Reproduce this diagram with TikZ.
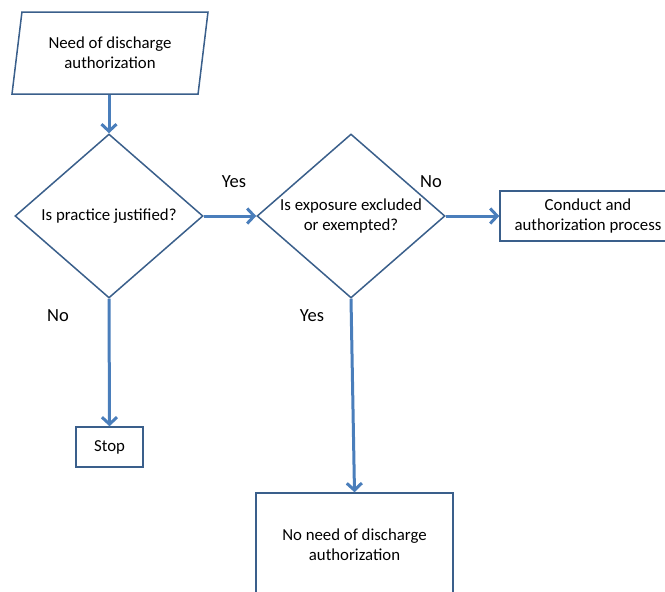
\documentclass[tikz,border=0pt]{standalone}
\usepackage{fontspec}
\setmainfont{Carlito}
\usepackage{tikz}
\usetikzlibrary{arrows.meta}
\usetikzlibrary{shapes.geometric}
\definecolor{edgeblue}{HTML}{3A5F8B}
\definecolor{flowblue}{HTML}{4A7EBB}
\tikzset{
input box/.style = { trapezium, trapezium left angle = 73.7, trapezium right angle = 106.3, trapezium stretches body, draw = edgeblue, line width = 1.5pt, fill = white, minimum width = 196pt, minimum height = 82pt, align = center, inner sep = 1pt },
decision/.style = { diamond, shape aspect = 1.146, draw = edgeblue, line width = 1.5pt, fill = white, minimum width = 188pt, minimum height = 164pt, align = center, inner sep = 0pt },
process/.style = { rectangle, draw = edgeblue, line width = 1.5pt, fill = white, align = center },
flow/.style = { draw = flowblue, line width = 3pt, -{Straight Barb[length = 7pt, width = 15pt, line width = 3pt]} },
answer/.style = { font = \fontsize{18.5}{22}\selectfont },
}

\begin{document}
\begin{tikzpicture}[x = 1pt, y = -1pt, font = \fontsize{16.8}{20.2}\selectfont]
      \useasboundingbox (0, 0) rectangle (665, 592);
      % shapes
      \node[input box] (start) at (110, 53) {Need of discharge\\authorization};
      \node[decision] (justified) at (109, 216) {Is practice justified?};
      \node[decision] (excluded) at (351, 216) {Is exposure excluded\\or exempted?};
      \node[process, minimum width = 176pt, minimum height = 50pt] (conduct) at (588, 216) {Conduct and\\authorization process};
      \node[process, minimum width = 67pt, minimum height = 40pt] (stop) at (109.5, 447) {Stop};
      \node[process, minimum width = 197pt, minimum height = 104pt] (noneed) at (354.5, 545) {No need of discharge\\authorization};
      % connectors
      \draw[flow] (start.south -| justified.north) -- (justified.north);
      \draw[flow] (justified.east) -- (excluded.west);
      \draw[flow] (excluded.east) -- (conduct.west);
      \draw[flow] (justified.south) -- (stop.north);
      \draw[flow] (excluded.south) -- (noneed.north);
      % answers
      \node[answer] (yes1) at (234, 182) {Yes};
      \node[answer] (no1) at (431, 182) {No};
      \node[answer] (no2) at (58, 316) {No};
      \node[answer] (yes2) at (312, 316) {Yes};
    \end{tikzpicture}
\end{document}
